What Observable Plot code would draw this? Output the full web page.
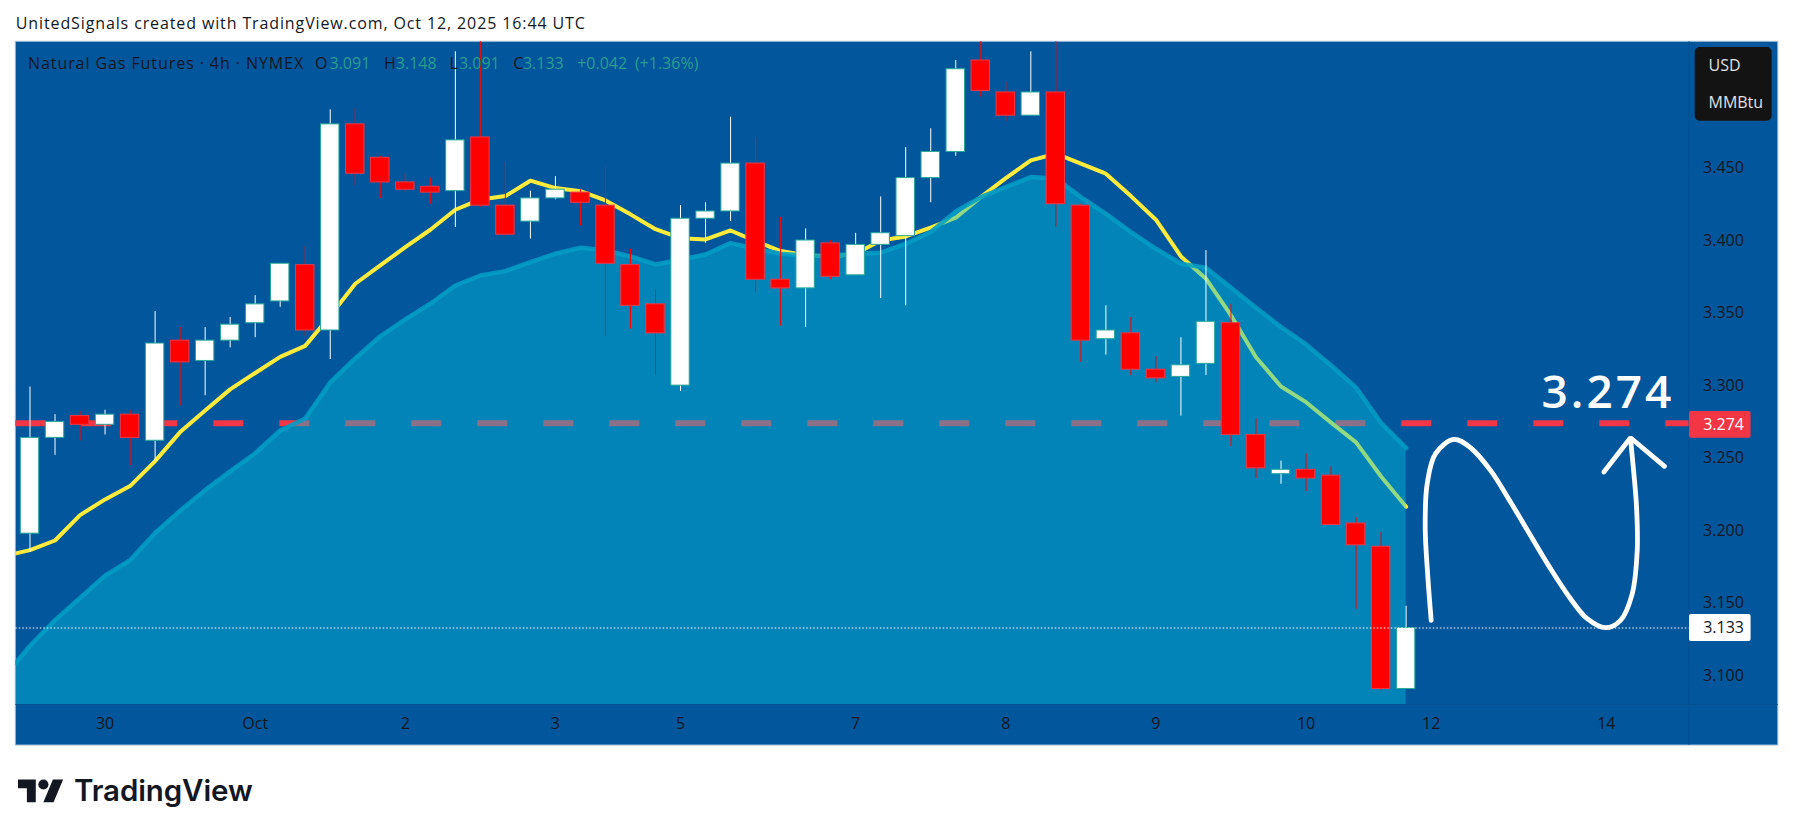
<!DOCTYPE html>
<html><head><meta charset="utf-8">
<script src="https://cdn.jsdelivr.net/npm/d3@7"></script>
<script src="https://cdn.jsdelivr.net/npm/@observablehq/plot@0.6"></script>
<style>html,body{margin:0;padding:0;background:#fff}svg{display:block}</style>
</head><body><div id="chart"></div>
<script>
const open=[3.198,3.264,3.279,3.273,3.280,3.262,3.331,3.317,3.331,3.343,3.358,3.383,3.338,3.480,3.457,3.440,3.437,3.434,3.471,3.424,3.413,3.429,3.433,3.424,3.383,3.356,3.300,3.415,3.420,3.453,3.373,3.367,3.398,3.376,3.397,3.403,3.443,3.461,3.524,3.502,3.486,3.502,3.424,3.332,3.336,3.311,3.306,3.315,3.343,3.266,3.239,3.242,3.238,3.205,3.189,3.091];
const close=[3.264,3.275,3.273,3.280,3.264,3.329,3.316,3.331,3.342,3.356,3.384,3.338,3.480,3.446,3.440,3.435,3.433,3.469,3.424,3.404,3.429,3.435,3.426,3.384,3.355,3.336,3.415,3.420,3.453,3.373,3.367,3.400,3.375,3.397,3.405,3.443,3.461,3.518,3.503,3.486,3.502,3.425,3.331,3.338,3.311,3.305,3.314,3.344,3.266,3.243,3.242,3.236,3.204,3.190,3.091,3.133];
const high=[3.299,3.280,3.282,3.283,3.283,3.351,3.340,3.340,3.347,3.362,3.384,3.396,3.490,3.491,3.458,3.446,3.443,3.530,3.540,3.454,3.434,3.444,3.435,3.451,3.394,3.366,3.424,3.426,3.485,3.471,3.416,3.408,3.400,3.405,3.430,3.464,3.477,3.524,3.540,3.509,3.530,3.540,3.425,3.355,3.347,3.320,3.333,3.393,3.356,3.277,3.248,3.253,3.244,3.209,3.199,3.148];
const low=[3.185,3.252,3.262,3.266,3.245,3.248,3.286,3.293,3.326,3.333,3.354,3.334,3.318,3.438,3.429,3.433,3.425,3.409,3.423,3.402,3.401,3.428,3.410,3.334,3.339,3.307,3.296,3.398,3.413,3.364,3.341,3.340,3.373,3.376,3.360,3.355,3.426,3.458,3.499,3.482,3.486,3.409,3.316,3.321,3.307,3.302,3.279,3.307,3.258,3.236,3.232,3.227,3.204,3.146,3.090,3.091];
const emaFast=[3.1867,3.1933,3.2108,3.2216,3.2308,3.2480,3.2680,3.2829,3.2974,3.3087,3.3198,3.3274,3.3481,3.3702,3.3828,3.3954,3.4074,3.4212,3.4283,3.4306,3.4412,3.4361,3.4340,3.4276,3.4180,3.4078,3.4016,3.4007,3.4069,3.3996,3.3927,3.3899,3.3890,3.3909,3.4000,3.4028,3.4088,3.4157,3.4299,3.4430,3.4552,3.4598,3.4529,3.4460,3.4306,3.4143,3.3890,3.3737,3.3484,3.3196,3.2994,3.2886,3.2745,3.2609,3.2374,3.2166];
const emaSlow=[3.1208,3.1384,3.1538,3.1691,3.1797,3.1985,3.2138,3.2280,3.2409,3.2534,3.2691,3.2774,3.3022,3.3187,3.3340,3.3457,3.3564,3.3690,3.3759,3.3789,3.3851,3.3909,3.3950,3.3932,3.3890,3.3835,3.3867,3.3904,3.3982,3.3943,3.3909,3.3895,3.3895,3.3909,3.3916,3.3978,3.4058,3.4200,3.4299,3.4368,3.4437,3.4426,3.4299,3.4184,3.4058,3.3943,3.3840,3.3812,3.3675,3.3537,3.3403,3.3284,3.3139,3.2986,3.2742,3.2569];
const emaFastLeft=3.1844, emaSlowLeft=3.1090;
const yTicks=[3.1,3.15,3.2,3.25,3.3,3.35,3.4,3.45];
const xTicks=[3,9,15,21,26,33,39,45,51,56,63];
const xTickLabels=["30","Oct","2","3","5","7","8","9","10","12","14"];
const target=3.274, last=3.133;
const sketchX=[56.002,55.869,55.762,55.842,56.175,56.908,57.574,58.374,59.173,59.972,60.772,61.571,62.237,62.970,63.569,64.036,64.236,64.209,64.103,63.969];
const sketchY=[3.1383,3.1681,3.2026,3.2324,3.2531,3.2630,3.2572,3.2416,3.2198,3.1968,3.1739,3.1532,3.1394,3.1332,3.1383,3.1566,3.1865,3.2163,3.2393,3.2634];
const headX=[62.904,63.969,65.328];
const headY=[3.2405,3.2641,3.2444];

const W=1793,H=836,ML=15.3,MT=41.3,MB=132,MR=104.4;
const font="Open Sans";
const dark="#131722", green="#2a9d8f";
const xDomain=[-0.5675,66.31], yDomain=[3.0803,3.5369];
const ix=px=>xDomain[0]+(px-ML)*(xDomain[1]-xDomain[0])/(W-MR-ML);
const iy=py=>yDomain[1]-(py-MT)*(yDomain[1]-yDomain[0])/(H-MB-MT);

const bars=open.map((o,i)=>({i,o,c:close[i],h:high[i],l:low[i],up:close[i]>=o}));
const fast=[{i:xDomain[0],v:emaFastLeft},...emaFast.map((v,i)=>({i,v}))];
const slow=[{i:xDomain[0],v:emaSlowLeft},...emaSlow.map((v,i)=>({i,v}))];
const sketch=sketchX.map((x,k)=>({x,y:sketchY[k]}));
const head=headX.map((x,k)=>({x,y:headY[k]}));

const txt=(s,px,py,o={})=>Plot.text([s],{text:d=>d,frameAnchor:"top-left",dx:px-ML,dy:py-MT,textAnchor:"start",lineAnchor:"middle",fill:dark,fontSize:16,...o});
const box=(x1,x2,y1,y2,fill,o={})=>Plot.rect([0],{x1:ix(x1),x2:ix(x2),y1:iy(y2),y2:iy(y1),fill,...o});

const logo=()=>{
  const g=d3.create("svg:g").attr("transform","translate(18,779.4) scale(1.27)").attr("fill",dark);
  g.append("path").attr("d","M14 0H0v7h7v11h7V0ZM28 18h-8l7.5-18h8L28 18Z");
  g.append("circle").attr("cx",20).attr("cy",4).attr("r",4);
  return g.node();
};

const chart=Plot.plot({
  width:W,height:H,marginLeft:ML,marginRight:MR,marginTop:MT,marginBottom:MB,
  style:{background:"#fff",fontFamily:font,overflow:"visible"},
  x:{domain:xDomain,axis:null},
  y:{domain:yDomain,axis:null},
  marks:[
    box(15.3,1777.8,41.3,745,"#02569c",{stroke:"#9dbcd8",strokeWidth:1}),
    Plot.ruleX([xDomain[1]],{y1:iy(745),y2:iy(41.3),stroke:"#02518f",strokeWidth:1}),
    Plot.ruleY([yDomain[0]],{x1:xDomain[0],x2:ix(1777.8),stroke:"#02518f",strokeWidth:1}),
    Plot.ruleY([target],{stroke:"#f23645",strokeWidth:6,strokeDasharray:"30,36"}),
    Plot.line(fast,{x:"i",y:"v",stroke:"#ffeb3b",strokeWidth:4,clip:"frame"}),
    Plot.areaY(slow,{x:"i",y1:yDomain[0],y2:"v",fill:"rgb(3,193,222)",fillOpacity:0.43}),
    Plot.line(slow,{x:"i",y:"v",stroke:"rgb(0,158,198)",strokeWidth:4.5,strokeOpacity:0.85,strokeLinecap:"round",clip:"frame"}),
    Plot.ruleX(bars,{x:"i",y1:"l",y2:"h",stroke:d=>d.up?"#fff":"#ff0000",strokeWidth:1,clip:"frame"}),
    Plot.rect(bars,{x1:d=>d.i-0.3677,x2:d=>d.i+0.3677,y1:"o",y2:"c",fill:d=>d.up?"#fff":"#ff0000",stroke:d=>d.up?"#26a69a":"#f23645",strokeWidth:1}),
    Plot.ruleY([last],{stroke:"#fff",strokeWidth:1.2,strokeDasharray:"1.5,2"}),
    Plot.line(sketch,{x:"x",y:"y",stroke:"#fff",strokeWidth:4.8,curve:"catmull-rom",strokeLinecap:"round"}),
    Plot.line(head,{x:"x",y:"y",stroke:"#fff",strokeWidth:4.8,strokeLinecap:"round",strokeLinejoin:"miter"}),
    Plot.axisY({anchor:"right",ticks:yTicks,tickSize:0,tickPadding:14,tickFormat:d3.format(".3f"),fill:dark,fontSize:16,label:null}),
    Plot.axisX({anchor:"bottom",ticks:xTicks,tickSize:0,tickPadding:13,tickFormat:d=>xTickLabels[xTicks.indexOf(d)],fill:dark,fontSize:16,label:null}),
    box(1689,1750.6,411,437.8,"#f23645",{rx:2}),
    txt("3.274",1702.7,424.6,{fill:"#fff"}),
    box(1689,1750.6,614,641,"#fff",{rx:2}),
    txt("3.133",1702.7,627.6),
    box(1694.7,1771.6,47,120.7,"#131313",{rx:5}),
    txt("USD",1708,65.7,{fill:"#e0e0e0"}),
    txt("MMBtu",1708,102.7,{fill:"#e0e0e0",fontSize:16}),
    txt("3.274",1541,393,{fill:"#fff",fontSize:46,fontWeight:600}),
    txt("UnitedSignals created with TradingView.com, Oct 12, 2025 16:44 UTC",15.3,23),
    txt("Natural Gas Futures · 4h · NYMEX",27.5,63.5),
    txt("O",314.6,63.5),txt("3.091",329,63.5,{fill:green}),
    txt("H",383.4,63.5),txt("3.148",395.3,63.5,{fill:green}),
    txt("L",448.9,63.5),txt("3.091",458.4,63.5,{fill:green}),
    txt("C",512.8,63.5),txt("3.133",522.4,63.5,{fill:green}),
    txt("+0.042",576.7,63.5,{fill:green}),txt("(+1.36%)",634.4,63.5,{fill:green}),
    logo,
    txt("TradingView",73.5,790.6,{fontFamily:"Inter",fontWeight:600,fontSize:29.5})
  ]
});
const tracking=[[/^UnitedSignals/,"0.88px"],[/^Natural Gas/,"0.92px"],[/^TradingView$/,"-0.1px"]];
chart.querySelectorAll("text").forEach(t=>{
  const s=t.textContent;
  if(s==="3.274"&&t.getAttribute("font-size")==="46"||t.parentNode.getAttribute("font-size")==="46"&&s==="3.274") t.style.letterSpacing="3px";
  for(const [re,v] of tracking) if(re.test(s)) t.style.letterSpacing=v;
});
document.getElementById("chart").append(chart);
</script></body></html>
